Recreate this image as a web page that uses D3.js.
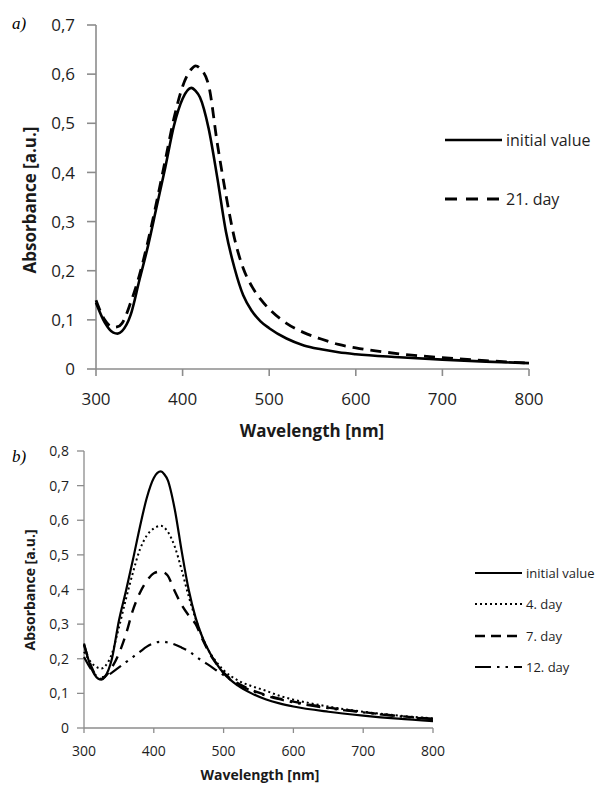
<!DOCTYPE html>
<html>
<head>
<meta charset="utf-8">
<script src="https://cdn.jsdelivr.net/npm/d3@7"></script>
<style>
  body { margin: 0; background: #fff; }
  svg { display: block; }
  .tick-label { font-family: "Open Sans", sans-serif; fill: #1e1e1e; }
  .axis-title { font-family: "Open Sans", sans-serif; font-weight: bold; fill: #1a1a1a; }
  .legend-text { font-family: "Open Sans", sans-serif; fill: #1e1e1e; }
  .panel-tag { font-family: "Liberation Serif", serif; font-style: italic; fill: #000; }
</style>
</head>
<body>
<svg id="chart" width="607" height="785"></svg>
<script>
// wavelength grid shared by all series (nm)
const wavelengths = [300, 310, 320, 325, 330, 340, 350, 360, 370, 380, 390, 400, 410, 415, 420,
  430, 440, 450, 460, 470, 480, 490, 500, 520, 540, 560, 580, 600, 650, 700, 750, 800];

// panel a) absorbance
const aInitial = [0.135, 0.095, 0.074, 0.072, 0.077, 0.110, 0.180, 0.250, 0.330, 0.410, 0.495, 0.550, 0.572, 0.566, 0.553,
  0.490, 0.390, 0.280, 0.205, 0.150, 0.118, 0.097, 0.083, 0.062, 0.048, 0.040, 0.034, 0.030, 0.024, 0.019, 0.015, 0.012];
const aDay21 = [0.140, 0.100, 0.085, 0.086, 0.093, 0.135, 0.190, 0.260, 0.340, 0.425, 0.510, 0.575, 0.610, 0.617, 0.612,
  0.578, 0.460, 0.355, 0.265, 0.205, 0.168, 0.142, 0.122, 0.093, 0.074, 0.061, 0.050, 0.043, 0.031, 0.023, 0.017, 0.012];

// panel b) absorbance
const bInitial = [0.244, 0.175, 0.143, 0.140, 0.148, 0.200, 0.310, 0.395, 0.485, 0.580, 0.665, 0.722, 0.741, 0.733, 0.716,
  0.632, 0.510, 0.399, 0.318, 0.260, 0.218, 0.185, 0.158, 0.123, 0.100, 0.083, 0.071, 0.062, 0.047, 0.036, 0.027, 0.020];
const bDay4 = [0.220, 0.190, 0.174, 0.172, 0.178, 0.215, 0.290, 0.372, 0.448, 0.515, 0.556, 0.576, 0.584, 0.579, 0.567,
  0.524, 0.456, 0.380, 0.315, 0.260, 0.219, 0.190, 0.167, 0.138, 0.121, 0.108, 0.093, 0.082, 0.062, 0.047, 0.036, 0.028];
const bDay7 = [0.240, 0.180, 0.145, 0.142, 0.148, 0.175, 0.215, 0.270, 0.340, 0.390, 0.425, 0.447, 0.452, 0.449, 0.440,
  0.395, 0.355, 0.325, 0.300, 0.255, 0.215, 0.185, 0.160, 0.130, 0.110, 0.096, 0.085, 0.076, 0.059, 0.046, 0.035, 0.026];
const bDay12 = [0.205, 0.170, 0.148, 0.146, 0.148, 0.160, 0.175, 0.190, 0.205, 0.220, 0.235, 0.245, 0.249, 0.249, 0.247,
  0.241, 0.232, 0.222, 0.207, 0.193, 0.180, 0.166, 0.153, 0.127, 0.108, 0.094, 0.083, 0.074, 0.057, 0.045, 0.034, 0.026];

const xTicks = [300, 400, 500, 600, 700, 800];
const yTicksA = [0, 0.1, 0.2, 0.3, 0.4, 0.5, 0.6, 0.7];
const yTicksB = [0, 0.1, 0.2, 0.3, 0.4, 0.5, 0.6, 0.7, 0.8];

const svg = d3.select('#chart');

const fmtY = d => d === 0 ? '0' : d3.format('.1f')(d).replace('.', ',');

/**
 * Draw one absorbance panel.
 */
const drawPanel = (p) => {
  const x = d3.scaleLinear().domain([300, 800]).range([p.left, p.right]);
  const y = d3.scaleLinear().domain([0, p.yMax]).range([p.bottom, p.top]);
  const g = svg.append('g');

  // axes (hand-built to get the Excel look)
  g.append('line')
    .attr('x1', p.left).attr('x2', p.left)
    .attr('y1', y(p.yMax)).attr('y2', p.bottom)
    .attr('stroke', '#8c8c8c').attr('stroke-width', p.axisWidth);
  g.append('line')
    .attr('x1', p.left).attr('x2', p.right)
    .attr('y1', p.bottom).attr('y2', p.bottom)
    .attr('stroke', '#8c8c8c').attr('stroke-width', p.axisWidth);

  g.selectAll('line.ytick')
    .data(p.yTicks)
    .join('line')
    .attr('class', 'ytick')
    .attr('x1', p.left - p.yTickLen).attr('x2', p.left)
    .attr('y1', d => y(d)).attr('y2', d => y(d))
    .attr('stroke', '#8c8c8c').attr('stroke-width', p.axisWidth);

  g.selectAll('line.xtick')
    .data(xTicks)
    .join('line')
    .attr('class', 'xtick')
    .attr('x1', d => x(d)).attr('x2', d => x(d))
    .attr('y1', p.bottom).attr('y2', p.bottom + p.xTickLen)
    .attr('stroke', '#8c8c8c').attr('stroke-width', p.axisWidth);

  g.selectAll('text.ylab')
    .data(p.yTicks)
    .join('text')
    .attr('class', 'tick-label ylab')
    .attr('x', p.yLabelX)
    .attr('y', d => y(d))
    .attr('dy', '0.36em')
    .attr('text-anchor', 'end')
    .style('font-size', p.tickFont + 'px')
    .text(fmtY);

  g.selectAll('text.xlab')
    .data(xTicks)
    .join('text')
    .attr('class', 'tick-label xlab')
    .attr('x', d => x(d))
    .attr('y', p.xLabelY)
    .attr('text-anchor', 'middle')
    .style('font-size', p.tickFont + 'px')
    .text(d => d);

  // titles
  g.append('text')
    .attr('class', 'axis-title')
    .attr('x', p.xTitleX).attr('y', p.xTitleY)
    .attr('text-anchor', 'middle')
    .style('font-size', p.titleFont + 'px')
    .text('Wavelength [nm]');

  g.append('text')
    .attr('class', 'axis-title')
    .attr('transform', `translate(${p.yTitleX}, ${p.yTitleY}) rotate(-90)`)
    .attr('text-anchor', 'middle')
    .style('font-size', p.titleFont + 'px')
    .text('Absorbance [a.u.]');

  g.append('text')
    .attr('class', 'panel-tag')
    .attr('x', p.tagX).attr('y', p.tagY)
    .style('font-size', '17px')
    .text(p.tag);

  // curves
  const line = d3.line()
    .x((d, i) => x(wavelengths[i]))
    .y(d => y(d))
    .curve(d3.curveMonotoneX);

  p.series.forEach((s, i) => {
    g.append('path')
      .datum(s.values)
      .attr('d', line)
      .attr('fill', 'none')
      .attr('stroke', '#000')
      .attr('stroke-width', s.width)
      .attr('stroke-dasharray', s.dash)
      .attr('stroke-linecap', s.cap || 'butt');

    // legend entry
    const ly = p.legendY[i];
    g.append('line')
      .attr('x1', p.legendX1).attr('x2', p.legendX2)
      .attr('y1', ly).attr('y2', ly)
      .attr('stroke', '#000')
      .attr('stroke-width', s.width)
      .attr('stroke-dasharray', s.legendDash || s.dash)
      .attr('stroke-linecap', s.cap || 'butt');

    g.append('text')
      .attr('class', 'legend-text')
      .attr('x', p.legendX2 + 4).attr('y', ly)
      .attr('dy', '0.35em')
      .style('font-size', p.legendFont + 'px')
      .text(s.name);
  });
};

drawPanel({
  tag: 'a)', tagX: 12, tagY: 29,
  left: 96, right: 529, top: 25, bottom: 369, yMax: 0.7,
  yTicks: yTicksA, axisWidth: 1.6, yTickLen: 9, xTickLen: 7,
  tickFont: 17, yLabelX: 75, xLabelY: 405,
  titleFont: 17, xTitleX: 312, xTitleY: 437, yTitleX: 36, yTitleY: 200,
  legendX1: 445, legendX2: 502, legendY: [140, 199], legendFont: 16,
  series: [
    { name: 'initial value', values: aInitial, width: 2.6, dash: null },
    { name: '21. day', values: aDay21, width: 2.8, dash: '11,7', legendDash: '12,9' }
  ]
});

drawPanel({
  tag: 'b)', tagX: 12, tagY: 462,
  left: 84, right: 433, top: 451, bottom: 728, yMax: 0.8,
  yTicks: yTicksB, axisWidth: 1.3, yTickLen: 7, xTickLen: 5,
  tickFont: 14, yLabelX: 69, xLabelY: 756,
  titleFont: 14, xTitleX: 260, xTitleY: 780, yTitleX: 35, yTitleY: 590,
  legendX1: 475, legendX2: 522, legendY: [573, 604, 636, 667], legendFont: 13,
  series: [
    { name: 'initial value', values: bInitial, width: 2.2, dash: null },
    { name: '4. day', values: bDay4, width: 2, dash: '2,3' },
    { name: '7. day', values: bDay7, width: 2.4, dash: '11,8', legendDash: '10,6' },
    { name: '12. day', values: bDay12, width: 2.2, dash: '14,6,2.5,6,2.5,6', legendDash: '16,6,2.5,6,2.5,6' }
  ]
});
</script>
</body>
</html>
